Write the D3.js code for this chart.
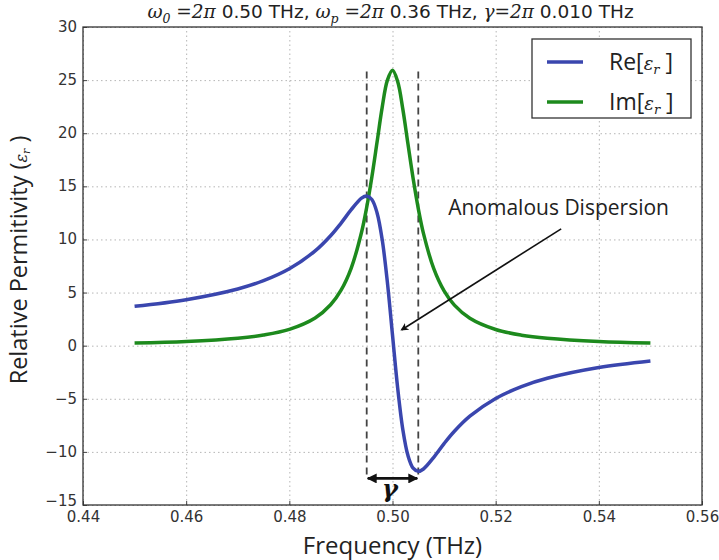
<!DOCTYPE html>
<html>
<head>
<meta charset="utf-8">
<script src="https://cdn.jsdelivr.net/npm/d3@7"></script>
<style>
  body { margin: 0; background: #fff; }
  .tick text { font-family: "DejaVu Sans", sans-serif; font-size: 15px; fill: #333; }
  .grid line { stroke: #b5b5b5; stroke-dasharray: 1.5,3; stroke-width: 1; }
  .grid .domain { display: none; }
</style>
</head>
<body>
<div id="chart"></div>
<script>
// frequencies (THz) and values
var freq = [0.45, 0.46, 0.47, 0.475, 0.48, 0.485, 0.488, 0.49, 0.492, 0.494, 0.495, 0.496, 0.497, 0.498, 0.499,
            0.50, 0.501, 0.502, 0.503, 0.504, 0.505, 0.506, 0.508, 0.51, 0.512, 0.515, 0.52, 0.525, 0.53, 0.54, 0.55];
var reEps = [3.70, 4.33, 5.34, 6.12, 7.24, 8.92, 10.35, 11.52, 12.80, 13.89, 14.09, 13.76, 12.52, 9.99, 6.00,
             1.00, -3.97, -7.89, -10.35, -11.53, -11.83, -11.61, -10.51, -9.22, -8.06, -6.64, -4.97, -3.85, -3.07, -2.06, -1.44];
var imEps = [0.26, 0.40, 0.70, 1.00, 1.53, 2.60, 3.85, 5.20, 7.31, 10.68, 13.03, 15.88, 19.14, 22.43, 24.97,
             25.92, 24.87, 22.27, 18.98, 15.73, 12.90, 10.57, 7.25, 5.16, 3.82, 2.58, 1.52, 0.99, 0.70, 0.40, 0.26];
var xTicks = [0.44, 0.46, 0.48, 0.50, 0.52, 0.54, 0.56];
var yTicks = [-15, -10, -5, 0, 5, 10, 15, 20, 25, 30];
var gammaBand = [0.495, 0.505];

var svgW = 719, svgH = 560;
var margin = {top: 27, right: 17, bottom: 55, left: 83};
var width = svgW - margin.left - margin.right;
var height = svgH - margin.top - margin.bottom;

var svg = d3.select("#chart").append("svg")
    .attr("width", svgW)
    .attr("height", svgH);

var defs = svg.append("defs");
defs.append("marker")
    .attr("id", "ah")
    .attr("viewBox", "0 0 10 10")
    .attr("refX", 9).attr("refY", 5)
    .attr("markerWidth", 10).attr("markerHeight", 10)
    .attr("markerUnits", "userSpaceOnUse")
    .attr("orient", "auto-start-reverse")
    .append("path")
    .attr("d", "M0,0 L10,5 L0,10 z")
    .attr("fill", "#111");
defs.append("marker")
    .attr("id", "ah2")
    .attr("viewBox", "0 0 10 10")
    .attr("refX", 8).attr("refY", 5)
    .attr("markerWidth", 5).attr("markerHeight", 5)
    .attr("orient", "auto-start-reverse")
    .append("path")
    .attr("d", "M0,0 L10,5 L0,10 L3,5 z")
    .attr("fill", "#111");

var g = svg.append("g")
    .attr("transform", "translate(" + margin.left + "," + margin.top + ")");

var x = d3.scaleLinear().domain([0.44, 0.56]).range([0, width]);
var y = d3.scaleLinear().domain([-15, 30]).range([height, 0]);

// gridlines
g.append("g")
    .attr("class", "grid")
    .attr("transform", "translate(0," + height + ")")
    .call(d3.axisBottom(x).tickValues(xTicks).tickSize(-height).tickFormat(""));
g.append("g")
    .attr("class", "grid")
    .call(d3.axisLeft(y).tickValues(yTicks).tickSize(-width).tickFormat(""));

// axes (ticks inside like matplotlib)
var xAxis = g.append("g")
    .attr("transform", "translate(0," + height + ")")
    .call(d3.axisBottom(x).tickValues(xTicks).tickSize(-4).tickPadding(6).tickFormat(d3.format(".2f")));
xAxis.select(".domain").remove();
xAxis.selectAll(".tick line").attr("stroke", "#444");

var yAxis = g.append("g")
    .call(d3.axisLeft(y).tickValues(yTicks).tickSize(-4).tickPadding(6).tickFormat(function (d) {
        return d < 0 ? "\u2212" + Math.abs(d) : d;
    }));
yAxis.select(".domain").remove();
yAxis.selectAll(".tick line").attr("stroke", "#444");
// bottom label sits a touch higher so it clears 0.44
yAxis.selectAll(".tick text").attr("dy", function (d) { return d === -15 ? "0.05em" : "0.3em"; });

// dashed gamma markers
g.selectAll(".gamma-line")
    .data(gammaBand)
    .enter().append("line")
    .attr("class", "gamma-line")
    .attr("x1", function (d) { return x(d); })
    .attr("x2", function (d) { return x(d); })
    .attr("y1", y(25.8))
    .attr("y2", y(-12.4))
    .attr("stroke", "#444")
    .attr("stroke-width", 1.8)
    .attr("stroke-dasharray", "7,5");

// curves
var line = function (vals) {
    return d3.line()
        .x(function (d, i) { return x(freq[i]); })
        .y(function (d) { return y(d); })
        .curve(d3.curveCatmullRom.alpha(0.5))(vals);
};

g.append("path")
    .attr("d", line(imEps))
    .attr("fill", "none")
    .attr("stroke", "#1d8a1d")
    .attr("stroke-width", 3.5);

g.append("path")
    .attr("d", line(reEps))
    .attr("fill", "none")
    .attr("stroke", "#3a46ae")
    .attr("stroke-width", 3.5);

// frame
g.append("rect")
    .attr("width", width)
    .attr("height", height)
    .attr("fill", "none")
    .attr("stroke", "#333")
    .attr("stroke-width", 1.3);

// gamma double arrow
g.append("line")
    .attr("x1", x(gammaBand[0]) + 1)
    .attr("x2", x(gammaBand[1]) - 1)
    .attr("y1", y(-12.5))
    .attr("y2", y(-12.5))
    .attr("stroke", "#111")
    .attr("stroke-width", 2.8)
    .attr("marker-start", "url(#ah)")
    .attr("marker-end", "url(#ah)");

g.append("text")
    .attr("x", x(0.4995))
    .attr("y", y(-14.2))
    .attr("text-anchor", "middle")
    .attr("font-family", "DejaVu Serif, serif")
    .attr("font-style", "italic")
    .attr("font-weight", "bold")
    .attr("font-size", 24)
    .attr("fill", "#111")
    .text("\u03b3");

// annotation
g.append("text")
    .attr("x", x(0.5108))
    .attr("y", y(12.3))
    .attr("font-family", "Open Sans, sans-serif")
    .attr("font-size", 21)
    .attr("fill", "#222")
    .text("Anomalous Dispersion");

g.append("line")
    .attr("x1", x(0.5327))
    .attr("y1", y(11.0))
    .attr("x2", x(0.5018))
    .attr("y2", y(1.5))
    .attr("stroke", "#111")
    .attr("stroke-width", 1.6)
    .attr("marker-end", "url(#ah2)");

// legend
var legend = g.append("g")
    .attr("transform", "translate(" + (532 - margin.left) + "," + (39 - margin.top) + ")");
legend.append("rect")
    .attr("width", 159)
    .attr("height", 79)
    .attr("fill", "#fff")
    .attr("stroke", "#333")
    .attr("stroke-width", 1.3);

var legendItems = [
    {name: "Re", color: "#3a46ae"},
    {name: "Im", color: "#1d8a1d"}
];
var li = legend.selectAll(".li")
    .data(legendItems)
    .enter().append("g")
    .attr("class", "li")
    .attr("transform", function (d, i) { return "translate(0," + (23 + i * 40) + ")"; });
li.append("line")
    .attr("x1", 15).attr("x2", 51)
    .attr("y1", 0).attr("y2", 0)
    .attr("stroke", function (d) { return d.color; })
    .attr("stroke-width", 3.5);
var lt = li.append("text")
    .attr("x", 77)
    .attr("y", 8)
    .attr("font-family", "Open Sans, sans-serif")
    .attr("font-size", 23)
    .attr("fill", "#222");
lt.append("tspan").text(function (d) { return d.name + "["; });
lt.append("tspan").attr("font-family", "DejaVu Serif, serif").attr("font-style", "italic").attr("font-size", 18).text("\u03b5");
lt.append("tspan").attr("font-family", "DejaVu Serif, serif").attr("font-style", "italic").attr("font-size", 13).attr("dy", 4).text("r");
lt.append("tspan").attr("dy", -4).text(" ]");

// title
var title = svg.append("text")
    .attr("x", margin.left + width / 2 - 2)
    .attr("y", 18)
    .attr("text-anchor", "middle")
    .attr("font-family", "DejaVu Sans, sans-serif")
    .attr("font-size", 18.5)
    .attr("fill", "#222");
var mathParts = [
    {t: "\u03c9", m: true}, {t: "0", m: true, sub: true}, {t: " =2\u03c0", m: true}, {t: " 0.50 THz, "},
    {t: "\u03c9", m: true}, {t: "p", m: true, sub: true}, {t: " =2\u03c0", m: true}, {t: " 0.36 THz, "},
    {t: "\u03b3=2\u03c0", m: true}, {t: " 0.010 THz"}
];
var prevSub = false;
mathParts.forEach(function (p) {
    var ts = title.append("tspan").text(p.t);
    if (p.m) ts.attr("font-family", "DejaVu Serif, serif").attr("font-style", "italic");
    if (p.sub) { ts.attr("font-size", 12.5).attr("dy", 5); prevSub = true; }
    else if (prevSub) { ts.attr("dy", -5); prevSub = false; }
});

// axis labels
svg.append("text")
    .attr("x", margin.left + width / 2)
    .attr("y", 554)
    .attr("text-anchor", "middle")
    .attr("font-family", "Open Sans, sans-serif")
    .attr("font-size", 24)
    .attr("fill", "#222")
    .text("Frequency (THz)");

var yl = svg.append("text")
    .attr("transform", "translate(27," + (margin.top + height / 2 - 6) + ") rotate(-90)")
    .attr("text-anchor", "middle")
    .attr("font-family", "Open Sans, sans-serif")
    .attr("font-size", 23.5)
    .attr("fill", "#222");
yl.append("tspan").text("Relative Permitivity (");
yl.append("tspan").attr("font-family", "DejaVu Serif, serif").attr("font-style", "italic").attr("font-size", 16).text("\u03b5");
yl.append("tspan").attr("font-family", "DejaVu Serif, serif").attr("font-style", "italic").attr("font-size", 11).attr("dy", 3).text("r");
yl.append("tspan").attr("dy", -3).text(" )");
</script>
</body>
</html>
